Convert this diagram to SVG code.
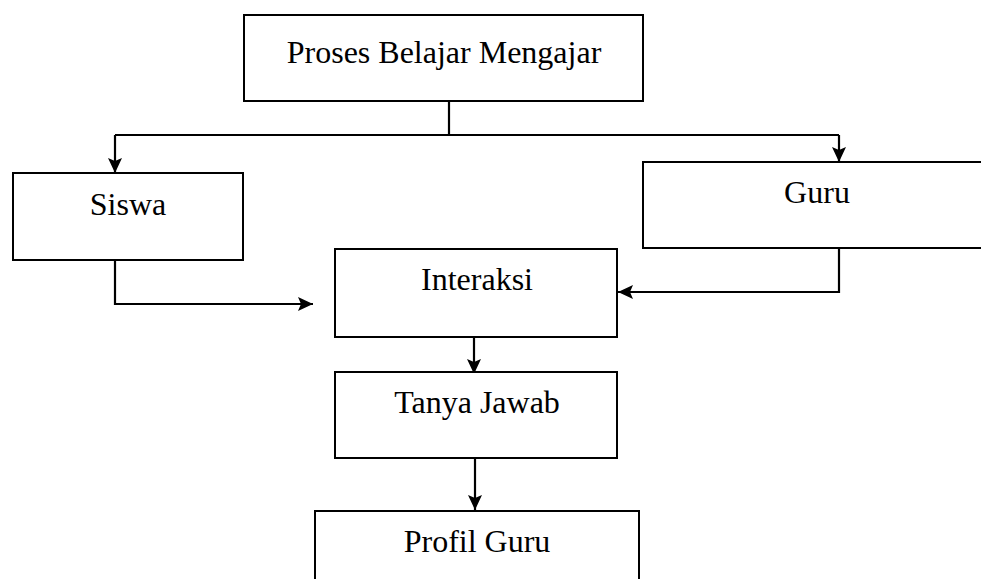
<svg xmlns="http://www.w3.org/2000/svg" width="981" height="579" viewBox="0 0 981 579">
<style>
.box{fill:#fff;stroke:#000;stroke-width:2}
.lbl{font-family:"Liberation Serif","Times New Roman",serif;font-size:32px;fill:#000;text-anchor:middle}
.ln{fill:none;stroke:#000;stroke-width:2.2}
</style>
<defs>
<marker id="ah" viewBox="0 0 15 14" refX="15" refY="7" markerWidth="15" markerHeight="14" markerUnits="userSpaceOnUse" orient="auto">
<path d="M0,0 L15,7 L0,14 L3,7 z" fill="#000"/>
</marker>
</defs>
<rect width="981" height="579" fill="#fff"/>
<g id="connectors">
<path class="ln" d="M449,101 V135"/>
<path class="ln" d="M115,135 H839"/>
<path class="ln" d="M115,135 V173" marker-end="url(#ah)"/>
<path class="ln" d="M839,135 V162" marker-end="url(#ah)"/>
<path class="ln" d="M115,260 V304 H313" marker-end="url(#ah)"/>
<path class="ln" d="M839,248 V292 H618" marker-end="url(#ah)"/>
<path class="ln" d="M474,337 V374" marker-end="url(#ah)"/>
<path class="ln" d="M475,458 V510" marker-end="url(#ah)"/>
</g>
<g id="node-proses">
<rect class="box" x="244" y="15" width="399" height="86"/>
<text class="lbl" x="444" y="63">Proses Belajar Mengajar</text>
</g>
<g id="node-siswa">
<rect class="box" x="13" y="173" width="230" height="87"/>
<text class="lbl" x="128" y="215">Siswa</text>
</g>
<g id="node-guru">
<rect class="box" x="643" y="162" width="345" height="86"/>
<text class="lbl" x="817" y="203">Guru</text>
</g>
<g id="node-interaksi">
<rect class="box" x="335" y="249" width="282" height="88"/>
<text class="lbl" x="477" y="290">Interaksi</text>
</g>
<g id="node-tanya">
<rect class="box" x="335" y="372" width="282" height="86"/>
<text class="lbl" x="477" y="413">Tanya Jawab</text>
</g>
<g id="node-profil">
<rect class="box" x="315" y="511" width="324" height="80"/>
<text class="lbl" x="477" y="552">Profil Guru</text>
</g>
</svg>
